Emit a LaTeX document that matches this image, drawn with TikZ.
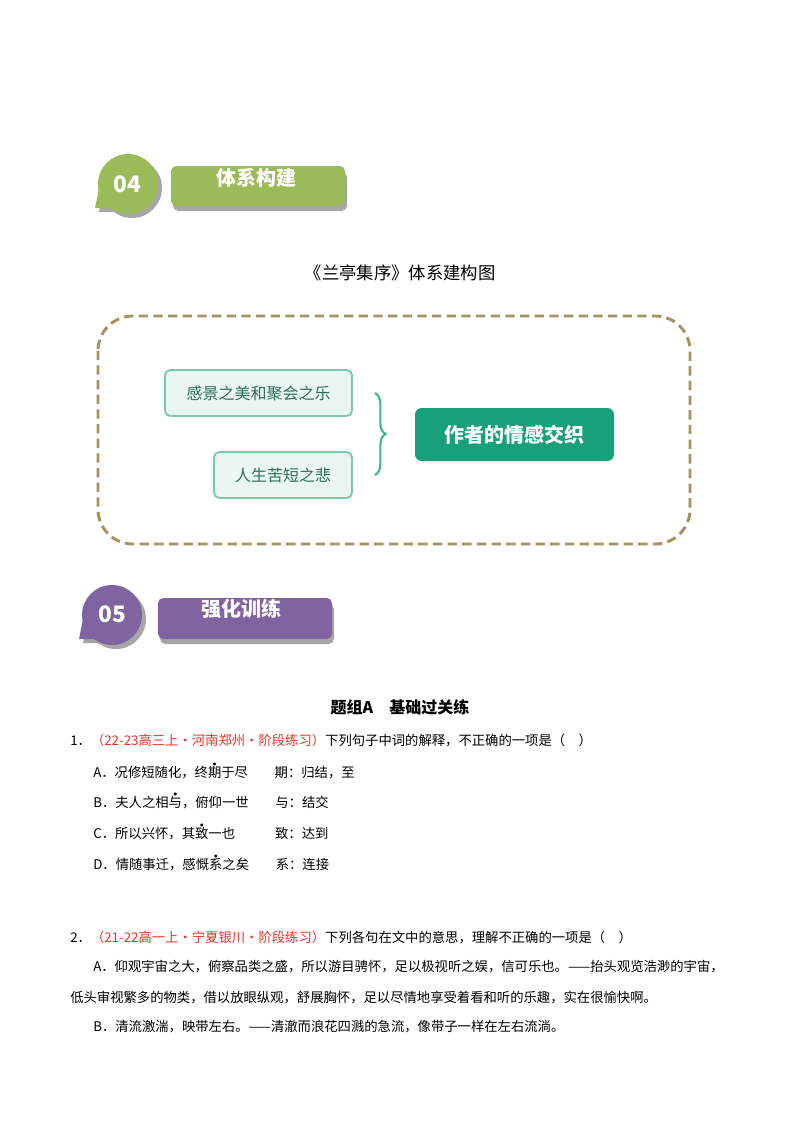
\documentclass[tikz,border=0pt]{standalone}
\usepackage{fontspec}
\setmainfont{Noto Sans CJK SC}
\newfontfamily\hei{Noto Sans CJK SC}
\usetikzlibrary{decorations.pathreplacing,calc}
\definecolor{gbadge}{HTML}{9BBB59}
\definecolor{pbadge}{HTML}{8064A2}
\definecolor{teal1}{HTML}{17A07A}
\definecolor{lightg}{HTML}{EAF6F0}
\definecolor{borderg}{HTML}{7CC9A8}
\definecolor{textg}{HTML}{2F6E58}
\definecolor{dashc}{HTML}{A8915E}
\definecolor{redq}{HTML}{E8332A}
\newcommand\zd[1]{\leavevmode\rlap{\hbox to 1em{\hss\raisebox{0.85em}{\scalebox{0.6}{$\bullet$}}\hss}}#1}
\tikzset{
  body/.style={anchor=west,inner sep=0pt,font=\fontsize{10pt}{12pt}\selectfont},
  smallbox/.style={draw=borderg,line width=1.4pt,fill=lightg,rounded corners=4pt,text=textg,font=\fontsize{12pt}{14pt}\selectfont},
}
\begin{document}
\begin{tikzpicture}[x=0.75pt,y=-0.75pt]
\useasboundingbox (0,0) rectangle (800,1132);
% badge 04
\fill[gray!70] (132,188) circle (30);
\fill[gray!70] (99,212) -- ($(132,188)+(55:30)$) -- (132,188) -- ($(132,188)+(215:30)$) -- cycle;
\fill[gbadge] (128,184) circle (30);
\fill[gbadge] (95,208) -- ($(128,184)+(55:30)$) -- (128,184) -- ($(128,184)+(215:30)$) -- cycle;
\node[text=white,font=\bfseries\fontsize{17pt}{18pt}\selectfont] (b4) at (127,184) {04};
\fill[gray!70,rounded corners=4pt] (173,172) rectangle (347,211);
\fill[gbadge,rounded corners=4pt] (171,166) rectangle (345,206);
\node[text=white,font=\bfseries\fontsize{15pt}{16pt}\selectfont] (h4) at (256,178) {体系构建};
% title
\node[font=\fontsize{13pt}{15pt}\selectfont] (title) at (400,273) {《兰亭集序》体系建构图};
% dashed frame
\draw[dashc,line width=2.2pt,dash pattern=on 7pt off 4pt,rounded corners=26pt] (98,316) rectangle (690,544);
\node[smallbox,minimum width=187*0.75pt,minimum height=46*0.75pt] (s1) at (258.5,393) {感景之美和聚会之乐};
\node[smallbox,minimum width=138*0.75pt,minimum height=46*0.75pt] (s2) at (283,475) {人生苦短之悲};
\node[fill=teal1,rounded corners=5pt,text=white,font=\bfseries\fontsize{15pt}{17pt}\selectfont,minimum width=199*0.75pt,minimum height=53*0.75pt] (big) at (514.5,434.5) {作者的情感交织};
\draw[teal1!80,line width=1.6pt,decoration={brace,amplitude=8pt},decorate] (375,393) -- (375,475);
% badge 05
\fill[gray!70] (116,619) circle (30);
\fill[gray!70] (83,643) -- ($(116,619)+(55:30)$) -- (116,619) -- ($(116,619)+(215:30)$) -- cycle;
\fill[pbadge] (112,615) circle (30);
\fill[pbadge] (79,639) -- ($(112,615)+(55:30)$) -- (112,615) -- ($(112,615)+(215:30)$) -- cycle;
\node[text=white,font=\bfseries\fontsize{17pt}{18pt}\selectfont] (b5) at (112,614) {05};
\fill[gray!70,rounded corners=4pt] (160,604) rectangle (334,644);
\fill[pbadge,rounded corners=4pt] (158,598) rectangle (332,639);
\node[text=white,font=\bfseries\fontsize{15pt}{16pt}\selectfont] (h5) at (241,609) {强化训练};
% exercise
\node[font=\bfseries\fontsize{12pt}{14pt}\selectfont] (grp) at (400,707) {题组A\quad 基础过关练};
\node[body] (q1) at (70,740) {1．\textcolor{redq}{（22-23高三上·河南郑州·阶段练习）}下列句子中词的解释，不正确的一项是（\quad）};
\node[body] (q1a) at (93,771) {A．况修短随化，终\zd{期}于尽\quad\quad 期：归结，至};
\node[body] (q1b) at (93,801) {B．夫人之相\zd{与}，俯仰一世\quad\quad 与：结交};
\node[body] (q1c) at (93,832) {C．所以兴怀，其\zd{致}一也\quad\quad\quad 致：达到};
\node[body] (q1d) at (93,863) {D．情随事迁，感慨\zd{系}之矣\quad\quad 系：连接};
\node[body] (q2) at (70,937) {2．\textcolor{redq}{（21-22高一上·宁夏银川·阶段练习）}下列各句在文中的意思，理解不正确的一项是（\quad）};
\node[body] (q2a) at (93,967) {A．仰观宇宙之大，俯察品类之盛，所以游目骋怀，足以极视听之娱，信可乐也。——抬头观览浩渺的宇宙，};
\node[body] (q2a2) at (70,998) {低头审视繁多的物类，借以放眼纵观，舒展胸怀，足以尽情地享受着看和听的乐趣，实在很愉快啊。};
\node[body] (q2b) at (93,1027) {B．清流激湍，映带左右。——清澈而浪花四溅的急流，像带子一样在左右流淌。};
\end{tikzpicture}
\end{document}
